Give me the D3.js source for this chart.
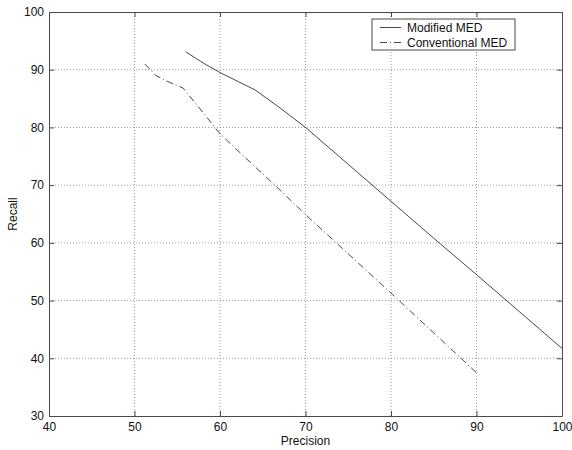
<!DOCTYPE html>
<html>
<head>
<meta charset="utf-8">
<script src="https://cdn.jsdelivr.net/npm/d3@7"></script>
<style>
  body { margin: 0; background: #fff; }
  text { font-family: "Liberation Sans", Arial, sans-serif; }
</style>
</head>
<body>
<div id="chart"></div>
<script>
// data
const modifiedPrecision = [56, 58, 60, 64.1, 67, 70, 75, 80, 85, 90, 95, 100];
const modifiedRecall = [93.1, 91.2, 89.5, 86.5, 83.4, 80, 73.6, 67.2, 60.8, 54.5, 48.1, 41.7];

const conventionalPrecision = [51.2, 52.5, 53.5, 55.7, 58, 60, 63, 66.2, 70, 75, 80, 85, 90];
const conventionalRecall = [91, 89, 88.2, 86.8, 82.6, 78.9, 74.7, 70.3, 64.9, 58.1, 51.3, 44.4, 37.5];

const xTicks = [40, 50, 60, 70, 80, 90, 100];
const yTicks = [30, 40, 50, 60, 70, 80, 90, 100];
const seriesNames = ["Modified MED", "Conventional MED"];

const width = 572, height = 450;
const margin = { top: 12, right: 10, bottom: 34, left: 49 };

const svg = d3.select("#chart").append("svg")
  .attr("width", width)
  .attr("height", height);

const x = d3.scaleLinear().domain([40, 100]).range([margin.left, width - margin.right]);
const y = d3.scaleLinear().domain([30, 100]).range([height - margin.bottom, margin.top]);

const axisColor = "#4a4a4a";

// grid
svg.append("g")
  .selectAll("line")
  .data(xTicks.slice(1, -1))
  .join("line")
  .attr("x1", d => x(d)).attr("x2", d => x(d))
  .attr("y1", y(30)).attr("y2", y(100))
  .attr("stroke", "#999")
  .attr("stroke-dasharray", "1,2");

svg.append("g")
  .selectAll("line")
  .data(yTicks.slice(1, -1))
  .join("line")
  .attr("y1", d => y(d)).attr("y2", d => y(d))
  .attr("x1", x(40)).attr("x2", x(100))
  .attr("stroke", "#999")
  .attr("stroke-dasharray", "1,2");

// axes (ticks point inward, box on all 4 sides)
const bottomAxis = svg.append("g")
  .attr("transform", `translate(0,${y(30)})`)
  .call(d3.axisBottom(x).tickValues(xTicks).tickSizeInner(-5).tickSizeOuter(0).tickPadding(6));
const leftAxis = svg.append("g")
  .attr("transform", `translate(${x(40)},0)`)
  .call(d3.axisLeft(y).tickValues(yTicks).tickSizeInner(-5).tickSizeOuter(0).tickPadding(5));
const topAxis = svg.append("g")
  .attr("transform", `translate(0,${y(100)})`)
  .call(d3.axisTop(x).tickValues(xTicks).tickSizeInner(-5).tickSizeOuter(0).tickFormat(""));
const rightAxis = svg.append("g")
  .attr("transform", `translate(${x(100)},0)`)
  .call(d3.axisRight(y).tickValues(yTicks).tickSizeInner(-5).tickSizeOuter(0).tickFormat(""));

[bottomAxis, leftAxis, topAxis, rightAxis].forEach(a => {
  a.select(".domain").attr("stroke", axisColor);
  a.selectAll(".tick line").attr("stroke", axisColor);
  a.selectAll(".tick text")
    .attr("fill", "#111")
    .attr("font-size", 12)
    .attr("font-family", "Liberation Sans, Arial, sans-serif");
});

// axis labels
svg.append("text")
  .attr("x", (x(40) + x(100)) / 2)
  .attr("y", 445)
  .attr("text-anchor", "middle")
  .attr("font-size", 12)
  .attr("fill", "#111")
  .text("Precision");

svg.append("text")
  .attr("transform", `translate(17,${(y(30) + y(100)) / 2}) rotate(-90)`)
  .attr("text-anchor", "middle")
  .attr("font-size", 12)
  .attr("fill", "#111")
  .text("Recall");

// lines
const line = d3.line().x(d => x(d[0])).y(d => y(d[1]));

const modified = modifiedPrecision.map((p, i) => [p, modifiedRecall[i]]);
const conventional = conventionalPrecision.map((p, i) => [p, conventionalRecall[i]]);
const dashes = [null, "7,3,1,3"];

svg.append("path")
  .datum(modified)
  .attr("d", line)
  .attr("fill", "none")
  .attr("stroke", "#333")
  .attr("stroke-width", 0.9);

svg.append("path")
  .datum(conventional)
  .attr("d", line)
  .attr("fill", "none")
  .attr("stroke", "#333")
  .attr("stroke-width", 0.9)
  .attr("stroke-dasharray", dashes[1]);

// legend
const legend = svg.append("g").attr("transform", "translate(372,19)");

legend.append("rect")
  .attr("width", 143)
  .attr("height", 31)
  .attr("fill", "#fff")
  .attr("stroke", axisColor);

seriesNames.forEach((name, i) => {
  const row = legend.append("g").attr("transform", `translate(0,${8.5 + i * 15})`);
  row.append("line")
    .attr("x1", 8).attr("x2", 29)
    .attr("stroke", "#333")
    .attr("stroke-width", 0.9)
    .attr("stroke-dasharray", dashes[i]);
  row.append("text")
    .attr("x", 35)
    .attr("y", 4.5)
    .attr("font-size", 12)
    .attr("fill", "#111")
    .text(name);
});
</script>
</body>
</html>
